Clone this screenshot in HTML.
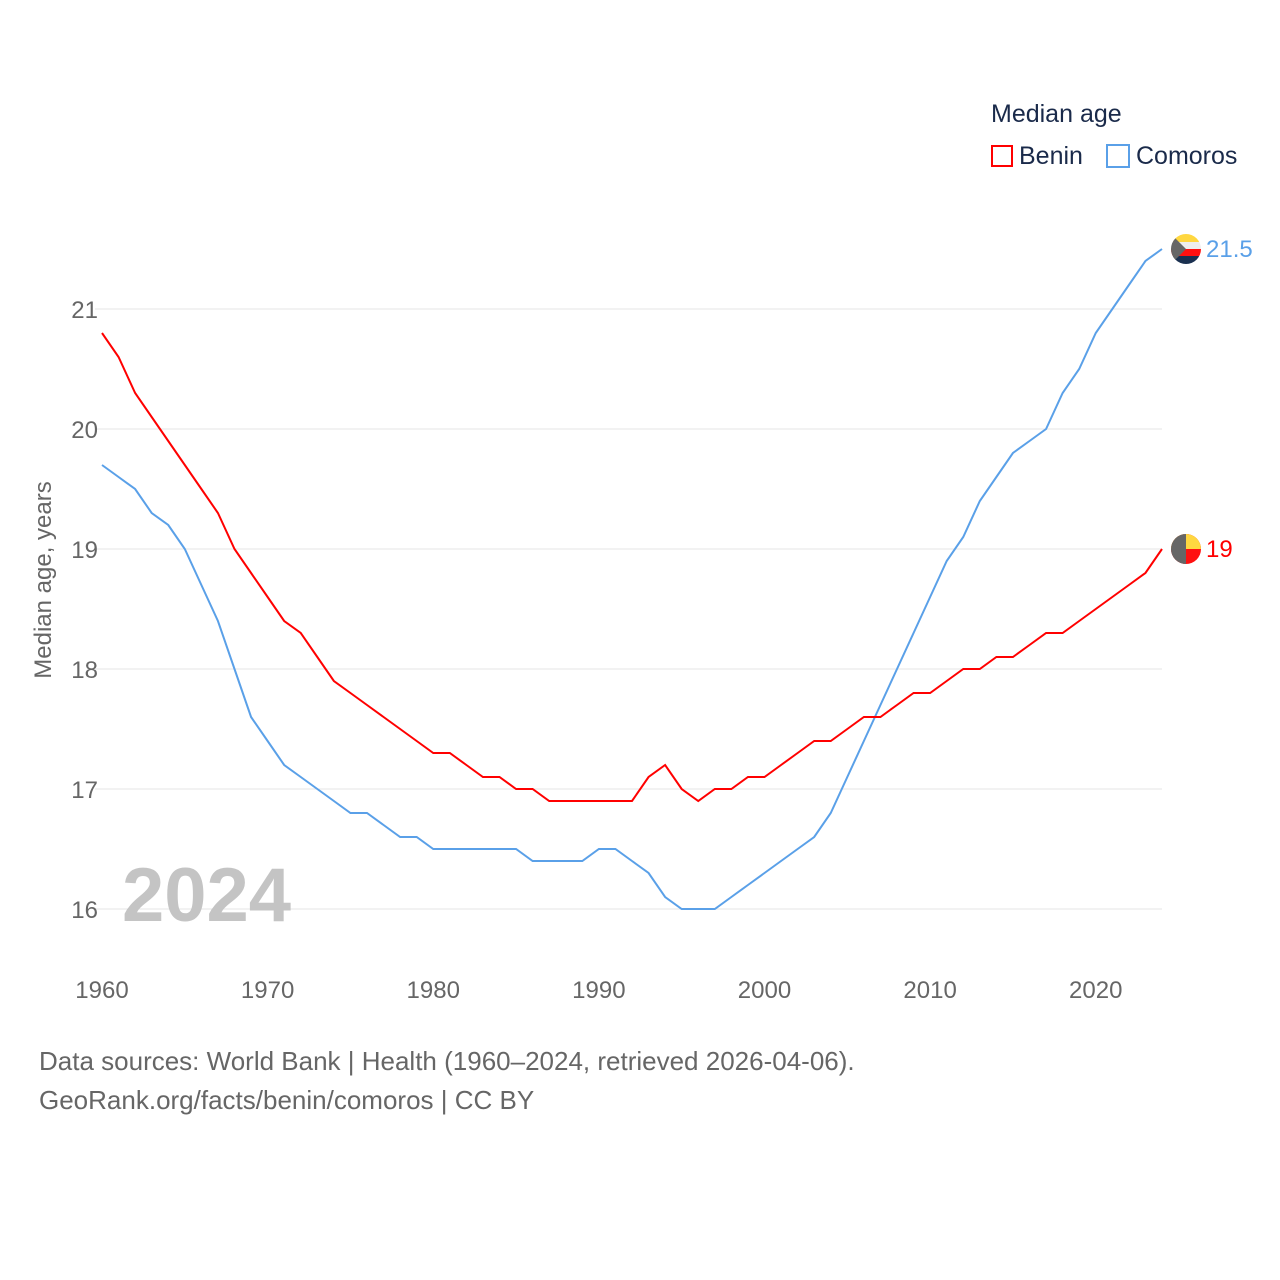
<!DOCTYPE html>
<html><head><meta charset="utf-8">
<style>
body{margin:0;background:#fff;font-family:"Liberation Sans",sans-serif;}
#wrap{position:relative;width:1280px;height:1280px;}
.t{position:absolute;white-space:nowrap;}
</style></head>
<body>
<div id="wrap">
<div class="t" style="left:991px;top:100px;font-size:25px;color:#1a2a4a;">Median age</div>
<div class="t" style="left:991px;top:142px;font-size:25px;color:#1a2a4a;"><span style="display:inline-block;width:22px;height:22px;border:2px solid #f00;box-sizing:border-box;vertical-align:-3px;margin-right:6px;"></span>Benin</div>
<div class="t" style="left:1106px;top:142px;font-size:25px;color:#1a2a4a;"><span style="display:inline-block;width:24px;height:24px;border:2px solid #5aa0e8;box-sizing:border-box;vertical-align:-4px;margin-right:6px;"></span>Comoros</div>
<div class="t" style="left:39px;top:1042px;font-size:26px;color:#666;line-height:39px;">Data sources: World Bank | Health (1960–2024, retrieved 2026-04-06).<br>GeoRank.org/facts/benin/comoros | CC BY</div>
<svg id="svg" width="1280" height="1280" style="position:absolute;left:0;top:0"></svg>
</div>
<script>
const years=[];for(let y=1960;y<=2024;y++)years.push(y);
const benin=[20.8,20.6,20.3,20.1,19.9,19.7,19.5,19.3,19.0,18.8,18.6,18.4,18.3,18.1,17.9,17.8,17.7,17.6,17.5,17.4,17.3,17.3,17.2,17.1,17.1,17.0,17.0,16.9,16.9,16.9,16.9,16.9,16.9,17.1,17.2,17.0,16.9,17.0,17.0,17.1,17.1,17.2,17.3,17.4,17.4,17.5,17.6,17.6,17.7,17.8,17.8,17.9,18.0,18.0,18.1,18.1,18.2,18.3,18.3,18.4,18.5,18.6,18.7,18.8,19.0];
const comoros=[19.7,19.6,19.5,19.3,19.2,19.0,18.7,18.4,18.0,17.6,17.4,17.2,17.1,17.0,16.9,16.8,16.8,16.7,16.6,16.6,16.5,16.5,16.5,16.5,16.5,16.5,16.4,16.4,16.4,16.4,16.5,16.5,16.4,16.3,16.1,16.0,16.0,16.0,16.1,16.2,16.3,16.4,16.5,16.6,16.8,17.1,17.4,17.7,18.0,18.3,18.6,18.9,19.1,19.4,19.6,19.8,19.9,20.0,20.3,20.5,20.8,21.0,21.2,21.4,21.5];
const yTicks=[16,17,18,19,20,21];
const xTicks=[1960,1970,1980,1990,2000,2010,2020];
const X=v=>102+(v-1960)*(1060/64);
const Y=v=>909-(v-16)*120;
const svg=document.getElementById('svg');const NS='http://www.w3.org/2000/svg';
function mk(t,a,p){const e=document.createElementNS(NS,t);for(const k in a)e.setAttribute(k,a[k]);(p||svg).appendChild(e);return e;}
yTicks.forEach(v=>{
 const l=mk('line',{x1:95,x2:1162,y1:Y(v),y2:Y(v),stroke:'#e6e6e6','stroke-width':1});
 
 
 const t=mk('text',{x:98,y:Y(v)+9,'text-anchor':'end','font-size':24,fill:'#666','font-family':'Liberation Sans, sans-serif'});
 t.textContent=v;
 
 
});
xTicks.forEach(v=>{
 const t=mk('text',{x:X(v),y:998,'text-anchor':'middle','font-size':24,fill:'#666','font-family':'Liberation Sans, sans-serif'});
 t.textContent=v;
 
 
});
const yt=mk('text',{transform:'translate(51,580) rotate(-90)','text-anchor':'middle','font-size':24,fill:'#666','font-family':'Liberation Sans, sans-serif'});
yt.textContent='Median age, years';


const yr=mk('text',{x:122,y:921,'font-size':76,'font-weight':'bold',fill:'#c4c4c4','font-family':'Liberation Sans, sans-serif'});
yr.textContent='2024';


function line(data,color,name){
 const p=mk('polyline',{points:data.map((v,i)=>X(years[i])+','+Y(v)).join(' '),fill:'none',stroke:color,'stroke-width':2});
 
 
}
line(comoros,'#5aa0e8','comoros-line');
line(benin,'#ff0000','benin-line');
function flag(cy,type){
 const cx=1186,r=15;
 const g=mk('g',{});
 
 
 const id='c'+type;
 const cp=mk('clipPath',{id:id},g);mk('circle',{cx:cx,cy:cy,r:r},cp);
 const h=mk('g',{'clip-path':'url(#'+id+')'},g);
 if(type==='benin'){
  mk('rect',{x:cx-r,y:cy-r,width:2*r,height:2*r,fill:'#ff1010'},h);
  mk('rect',{x:cx-r,y:cy-r,width:2*r,height:r,fill:'#ffd740'},h);
  mk('rect',{x:cx-r,y:cy-r,width:r,height:2*r,fill:'#666'},h);
 }else{
  mk('rect',{x:cx-r,y:cy-r,width:2*r,height:8,fill:'#ffd740'},h);
  mk('rect',{x:cx-r,y:cy-r+8,width:2*r,height:7,fill:'#eee'},h);
  mk('rect',{x:cx-r,y:cy,width:2*r,height:7,fill:'#ff1010'},h);
  mk('rect',{x:cx-r,y:cy+7,width:2*r,height:8,fill:'#1a3050'},h);
  mk('polygon',{points:(cx-r)+','+(cy-r)+' '+(cx)+','+cy+' '+(cx-r)+','+(cy+r),fill:'#666'},h);
 }
}
flag(Y(comoros[64]),'comoros');flag(Y(benin[64]),'benin');
function endLabel(v,color,name){
 const t=mk('text',{x:1206,y:Y(v)+8,'font-size':24,fill:color,'font-family':'Liberation Sans, sans-serif'});
 t.textContent=v;
 
 
}
endLabel(comoros[64],'#5aa0e8','comoros-end-label');
endLabel(benin[64],'#ff0000','benin-end-label');
</script>
</body></html>
